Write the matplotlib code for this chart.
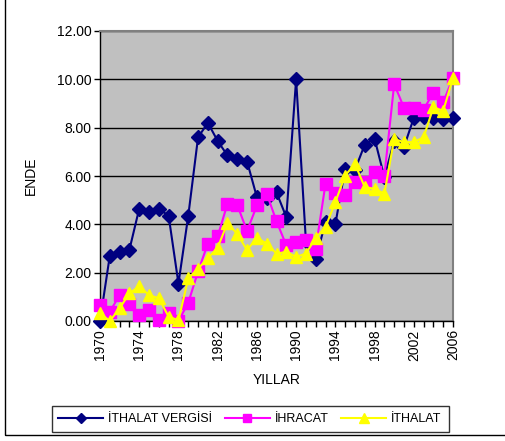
import numpy as np
import matplotlib.pyplot as plt
from matplotlib.patches import Rectangle

plt.rcParams['font.family'] = ['Liberation Sans', 'DejaVu Sans']

years = list(range(1970, 2007))

ithalat_vergisi = [0.00, 2.70, 2.85, 2.95, 4.65, 4.50, 4.65, 4.35, 1.55, 4.35,
                   7.60, 8.20, 7.45, 6.85, 6.70, 6.60, 5.12, 5.07, 5.32, 4.30,
                   10.00, 3.30, 2.55, 4.10, 4.00, 6.30, 6.25, 7.30, 7.55, 5.95,
                   7.45, 7.20, 8.40, 8.45, 8.40, 8.35, 8.40]
ihracat = [0.66, 0.38, 1.07, 0.70, 0.25, 0.45, 0.05, 0.34, 0.00, 0.75,
           2.05, 3.20, 3.50, 4.85, 4.80, 3.72, 4.78, 5.27, 4.13, 3.13,
           3.27, 3.34, 3.00, 5.68, 5.28, 5.20, 5.74, 5.75, 6.15, 6.00,
           9.80, 8.83, 8.83, 8.75, 9.45, 9.05, 10.07]
ithalat = [0.32, 0.00, 0.53, 1.14, 1.44, 1.07, 0.94, 0.18, 0.03, 1.76,
           2.17, 2.59, 3.04, 4.05, 3.60, 2.93, 3.45, 3.20, 2.79, 2.86,
           2.65, 2.79, 3.44, 3.89, 4.92, 6.02, 6.50, 5.54, 5.47, 5.27,
           7.53, 7.40, 7.40, 7.60, 8.84, 8.70, 10.05]

fig = plt.figure(figsize=(5.05, 4.41), dpi=100)
ax = fig.add_axes([100/505, 120/441, 353/505, 290/441])

ax.set_facecolor('#C0C0C0')
for s in ax.spines.values():
    s.set_color('#808080')
    s.set_linewidth(1.5)
ax.spines['left'].set_color('black')
ax.spines['left'].set_linewidth(1)
ax.spines['bottom'].set_color('black')
ax.spines['bottom'].set_linewidth(1)

ax.plot(years, ithalat_vergisi, color='#000080', marker='D', markersize=7,
        linewidth=1.5, label='İTHALAT VERGİSİ', clip_on=False, zorder=3)
ax.plot(years, ihracat, color='#FF00FF', marker='s', markersize=8,
        linewidth=1.5, label='İHRACAT', clip_on=False, zorder=4)
ax.plot(years, ithalat, color='#FFFF00', marker='^', markersize=9,
        linewidth=1.5, label='İTHALAT', clip_on=False, zorder=5)

ax.set_xlim(1970, 2006)
ax.set_ylim(0, 12)
ax.set_yticks(np.arange(0, 12.1, 2))
ax.set_yticklabels(['%.2f' % v for v in np.arange(0, 12.1, 2)], fontsize=10)
ax.set_xticks(range(1970, 2007, 4))
ax.set_xticklabels([str(y) for y in range(1970, 2007, 4)], rotation=90, fontsize=10)
ax.set_xticks(years, minor=True)
ax.tick_params(axis='both', direction='out', length=4, width=1, pad=2)
ax.tick_params(axis='x', which='minor', direction='out', length=4, width=1)
ax.grid(axis='y', color='black', linewidth=1)
ax.set_axisbelow(True)

ax.set_xlabel('YILLAR', fontsize=10, labelpad=9)
ax.set_ylabel('ENDE', fontsize=10, labelpad=14)

leg = fig.legend(loc='center', bbox_to_anchor=(250/505, 1 - 419/441), ncol=3,
                 frameon=True, fancybox=False, edgecolor='black', fontsize=9,
                 handlelength=3.6, columnspacing=1.0, handletextpad=0.4,
                 borderpad=0.55, markerscale=0.75)
leg.get_frame().set_linewidth(1)

fig.add_artist(Rectangle((4.5/505, 1 - 435/441), 1.2, 1.2, transform=fig.transFigure,
                         fill=False, edgecolor='black', linewidth=1))

fig.savefig('out.png', dpi=100)
